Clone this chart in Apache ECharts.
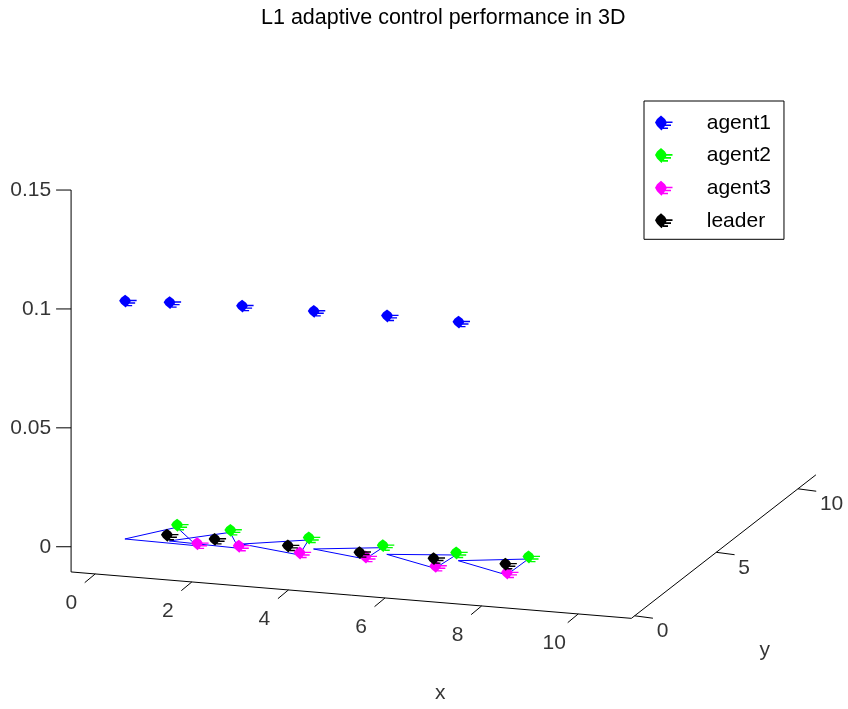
<!DOCTYPE html>
<html>
<head>
<meta charset="utf-8">
<script src="https://cdn.jsdelivr.net/npm/echarts@6/dist/echarts.min.js"></script>
<style>
html,body{margin:0;padding:0;background:#fff;}
#c{width:848px;height:709px;}
</style>
</head>
<body>
<div id="c"></div>
<script>
// ---------------- data ----------------
const chartTitle = 'L1 adaptive control performance in 3D';
const seriesNames = ['agent1', 'agent2', 'agent3', 'leader'];
const seriesColors = ['#0000ff', '#00ff00', '#ff00ff', '#000000'];

const agent1X = [0.32, 1.20, 2.63, 4.09, 5.59, 7.08];
const agent1Y = [0.67, 0.79, 1.00, 1.07, 1.12, 1.09];
const agent1Z = [0.0992, 0.0994, 0.0992, 0.0991, 0.0994, 0.0995];

const agent2X = [1.01, 2.13, 3.78, 5.35, 6.90, 8.35];
const agent2Y = [1.81, 1.76, 1.68, 1.57, 1.48, 1.62];
const agent2Z = [0, 0, 0, 0, 0, 0];

const agent3X = [1.83, 2.67, 3.97, 5.30, 6.83, 8.33];
const agent3Y = [0.61, 0.68, 0.56, 0.66, 0.41, 0.36];
const agent3Z = [0, 0, 0, 0, 0, 0];

const leaderX = [1.06, 2.05, 3.58, 5.08, 6.61, 8.09];
const leaderY = [1.04, 1.03, 0.99, 0.94, 0.95, 0.97];
const leaderZ = [0, 0, 0, 0, 0, 0];

const formationZ = 0;            // plane of the formation triangles

const xTicks = [0, 2, 4, 6, 8, 10];
const yTicks = [0, 5, 10];
const zTicks = [0, 0.05, 0.1, 0.15];
const zTickLabels = ['0', '0.05', '0.1', '0.15'];
const xLim = [-0.5, 11.1];
const yLim = [-0.2, 11.1];
const zLim = [-0.0106, 0.15];
const axisNames = ['x', 'y'];

// ---------------- view (orthographic 3D -> 2D) ----------------
const view = { ox: 98.5, oy: 546.2, ex: [48.3, 4.0], ey: [16.33, -12.7], ez: [0, -2378] };
function proj(x, y, z) {
  return [view.ox + x * view.ex[0] + y * view.ey[0] + z * view.ez[0],
          view.oy + x * view.ex[1] + y * view.ey[1] + z * view.ez[1]];
}
function projSeries(X, Y, Z) { return X.map((x, i) => proj(x, Y[i], Z[i])); }

const FONT = '"Liberation Sans", Arial, Helvetica, sans-serif';
const FS = 21;
const markerPath = 'path://M6 0L10 3.5L12 7L10 10.5L6.5 15L2 10.5L0 7L2 3.5Z' +
  'M11 6L17.5 6L17.5 7.6L11 7.6Z M10 9L16 9L16 10.6L10 10.6Z M8 12L13 12L13 13.6L8 13.6Z';

// axis box segments
const axisSegments = [
  [proj(xLim[0], yLim[0], zLim[0]), proj(xLim[1], yLim[0], zLim[0])],
  [proj(xLim[1], yLim[0], zLim[0]), proj(xLim[1], yLim[1], zLim[0])],
  [proj(xLim[0], yLim[0], zLim[0]), proj(xLim[0], yLim[0], zLim[1])]
].map(s => [s[0][0], s[0][1], s[1][0], s[1][1]]);

const xTickPts = xTicks.map(v => proj(v, yLim[0], zLim[0]));
const yTickPts = yTicks.map(v => proj(xLim[1], v, zLim[0]));
const zTickPts = zTicks.map(v => proj(xLim[0], yLim[0], v));

function segSeries(name, data) {
  return {
    type: 'custom', name: name, silent: true, clip: false, z: 1,
    data: data,
    renderItem: function (params, api) {
      const p1 = api.coord([api.value(0), api.value(1)]);
      const p2 = api.coord([api.value(2), api.value(3)]);
      return { type: 'line', shape: { x1: p1[0], y1: p1[1], x2: p2[0], y2: p2[1] },
               style: { stroke: '#000', lineWidth: 1 } };
    }
  };
}
function tickSeries(name, data, dx, dy) {
  return {
    type: 'custom', name: name, silent: true, clip: false, z: 1,
    data: data,
    renderItem: function (params, api) {
      const p = api.coord([api.value(0), api.value(1)]);
      return { type: 'line', shape: { x1: p[0], y1: p[1], x2: p[0] + dx, y2: p[1] + dy },
               style: { stroke: '#000', lineWidth: 1 } };
    }
  };
}
function labelSeries(name, pts, texts, labelOpt) {
  return {
    type: 'scatter', name: name, silent: true, symbolSize: 0, z: 1,
    itemStyle: { color: 'transparent' },
    data: pts.map((p, i) => ({ value: p, name: texts[i] })),
    label: Object.assign({ show: true, formatter: '{b}', color: '#000',
      fontSize: FS, fontFamily: FONT, position: 'inside' }, labelOpt)
  };
}

// formation triangles (agent1 -> agent2 -> agent3)
const triData = agent1X.map((x, i) => {
  const a = proj(x, agent1Y[i], formationZ);
  const b = proj(agent2X[i], agent2Y[i], agent2Z[i]);
  const c = proj(agent3X[i], agent3Y[i], agent3Z[i]);
  return [a[0], a[1], b[0], b[1], c[0], c[1]];
});

const agentData = [
  projSeries(agent1X, agent1Y, agent1Z),
  projSeries(agent2X, agent2Y, agent2Z),
  projSeries(agent3X, agent3Y, agent3Z),
  projSeries(leaderX, leaderY, leaderZ)
];

const xMid = proj((xLim[0] + xLim[1]) / 2, yLim[0], zLim[0]);
const yMid = proj(xLim[1], (yLim[0] + yLim[1]) / 2, zLim[0]);

const series = [
  segSeries('axes', axisSegments),
  tickSeries('xticks', xTickPts, -10.5, 8.7),
  tickSeries('yticks', yTickPts, 18.3, 2.4),
  tickSeries('zticks', zTickPts, -15, 0),
  labelSeries('xlabels', xTickPts, xTicks.map(String), { align: 'center', verticalAlign: 'middle', offset: [-24, 29] }),
  labelSeries('ylabels', yTickPts, yTicks.map(String), { align: 'left', verticalAlign: 'middle', offset: [22, 15.5] }),
  labelSeries('zlabels', zTickPts, zTickLabels, { align: 'right', verticalAlign: 'middle', offset: [-20, 0] }),
  labelSeries('xname', [xMid], [axisNames[0]], { align: 'center', verticalAlign: 'middle', offset: [89, 98] }),
  labelSeries('yname', [yMid], [axisNames[1]], { align: 'center', verticalAlign: 'middle', offset: [41, 104] }),
  {
    type: 'custom', name: 'formation', silent: true, clip: false, z: 2,
    data: triData,
    renderItem: function (params, api) {
      const pts = [0, 1, 2].map(k => api.coord([api.value(2 * k), api.value(2 * k + 1)]));
      return { type: 'polygon', shape: { points: pts },
               style: { fill: null, stroke: '#0000ff', lineWidth: 1 } };
    }
  }
];
seriesNames.forEach((n, i) => {
  series.push({
    type: 'scatter', name: n, z: 3, silent: true,
    symbol: markerPath, symbolSize: [17.5, 15], symbolOffset: [3, -2], symbolKeepAspect: true,
    itemStyle: { color: seriesColors[i], opacity: 1 },
    data: agentData[i]
  });
});

const chart = echarts.init(document.getElementById('c'), null, { renderer: 'canvas', width: 848, height: 709 });
chart.setOption({
  animation: false,
  backgroundColor: '#ffffff',
  textStyle: { fontFamily: FONT },
  title: {
    text: chartTitle, left: 261, top: 7, padding: 0,
    textStyle: { fontSize: 21.5, fontWeight: 'normal', color: '#000', fontFamily: FONT }
  },
  legend: {
    orient: 'vertical', left: 644, top: 101, selectedMode: false,
    data: seriesNames.map(n => ({ name: n, icon: markerPath, itemStyle: { opacity: 1 } })),
    itemWidth: 76, itemHeight: 15, itemGap: 11.6,
    padding: [11.5, 13, 8, 11],
    borderColor: '#000', borderWidth: 1, backgroundColor: '#fff',
    textStyle: { fontSize: FS, color: '#000', fontFamily: FONT }
  },
  grid: { left: 0, right: 0, top: 0, bottom: 0 },
  xAxis: { type: 'value', min: 0, max: 848, show: false },
  yAxis: { type: 'value', min: 0, max: 709, inverse: true, show: false },
  series: series
});
</script>
</body>
</html>
